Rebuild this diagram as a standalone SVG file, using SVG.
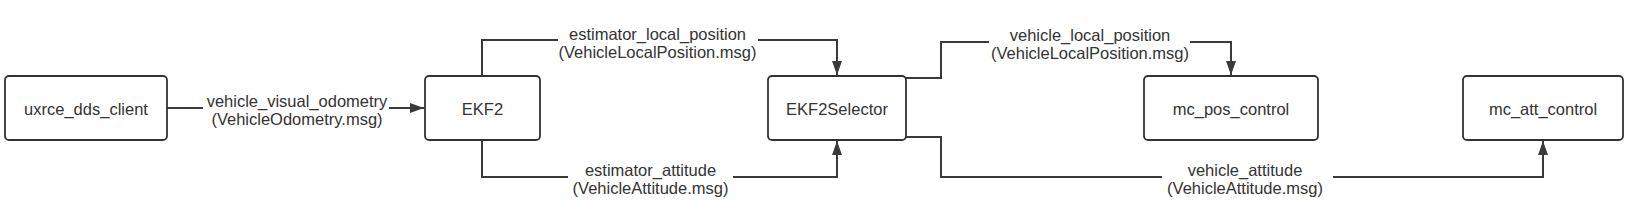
<svg xmlns="http://www.w3.org/2000/svg" width="1632" height="223" viewBox="0 0 1632 223">
<style>
.node rect{fill:#ffffff;stroke:#2f3237;stroke-width:1.8}
.node text{font-family:"Liberation Sans",Arial,sans-serif;font-size:16.5px;fill:#333333;text-anchor:middle}
.conn path{fill:none;stroke:#3a3a3a;stroke-width:2}
.lbl rect{fill:#ffffff;stroke:none}
.lbl text{font-family:"Liberation Sans",Arial,sans-serif;font-size:16.5px;fill:#333333;text-anchor:middle}
</style>
<defs>
<marker id="arr" markerUnits="userSpaceOnUse" markerWidth="14" markerHeight="10" refX="14" refY="5" orient="auto">
<path d="M0,0 L14,5 L0,10 z" fill="#3a3a3a"/>
</marker>
</defs>
<g id="connectors" class="conn">
<path d="M167,108 H424" marker-end="url(#arr)"/>
<path d="M482,76 V40 H837 V75" marker-end="url(#arr)"/>
<path d="M482,140 V177 H837 V141" marker-end="url(#arr)"/>
<path d="M906,78 H941 V42 H1231 V75" marker-end="url(#arr)"/>
<path d="M906,137 H941 V177 H1543 V141" marker-end="url(#arr)"/>
</g>
<g id="labels" class="lbl">
<rect x="203" y="92" width="186" height="38"/>
<text x="297" y="107">vehicle_visual_odometry</text>
<text x="297" y="125">(VehicleOdometry.msg)</text>
<rect x="558" y="24" width="200" height="40"/>
<text x="657.5" y="40">estimator_local_position</text>
<text x="657.5" y="58">(VehicleLocalPosition.msg)</text>
<rect x="568" y="160" width="165" height="40"/>
<text x="650.5" y="176">estimator_attitude</text>
<text x="650.5" y="194">(VehicleAttitude.msg)</text>
<rect x="989" y="26" width="201" height="40"/>
<text x="1090" y="41">vehicle_local_position</text>
<text x="1090" y="59">(VehicleLocalPosition.msg)</text>
<rect x="1162" y="160" width="171" height="40"/>
<text x="1245" y="176">vehicle_attitude</text>
<text x="1245" y="194">(VehicleAttitude.msg)</text>
</g>
<g id="uxrce_dds_client" class="node">
<rect x="5" y="76" width="162" height="64" rx="4"/>
<text x="86" y="114.5">uxrce_dds_client</text>
</g>
<g id="EKF2" class="node">
<rect x="425" y="76" width="115" height="64" rx="4"/>
<text x="482.5" y="114.5">EKF2</text>
</g>
<g id="EKF2Selector" class="node">
<rect x="768" y="76" width="138" height="64" rx="4"/>
<text x="837" y="114.5">EKF2Selector</text>
</g>
<g id="mc_pos_control" class="node">
<rect x="1144" y="76" width="174" height="64" rx="4"/>
<text x="1231" y="114.5">mc_pos_control</text>
</g>
<g id="mc_att_control" class="node">
<rect x="1463" y="76" width="160" height="64" rx="4"/>
<text x="1543" y="114.5">mc_att_control</text>
</g>
</svg>
